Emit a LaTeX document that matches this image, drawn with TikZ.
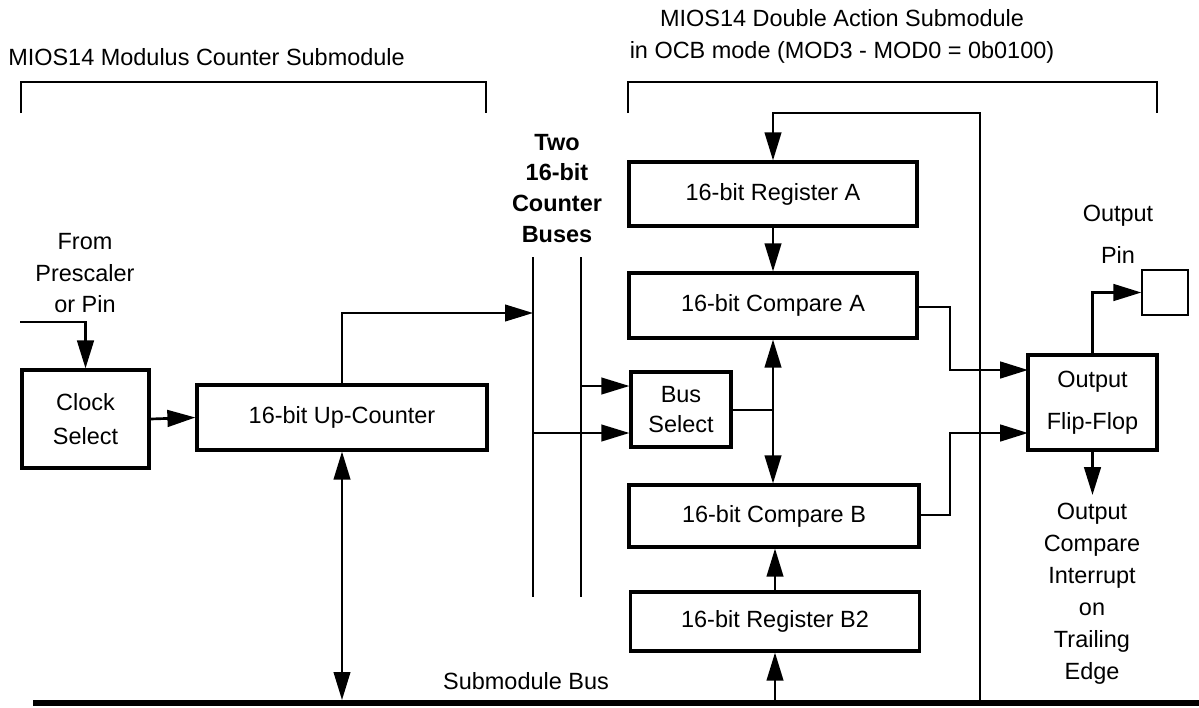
\documentclass[tikz,border=0pt]{standalone}
\usepackage{fontspec}
\setmainfont{Liberation Sans}
\usetikzlibrary{arrows.meta}
\begin{document}
\begin{tikzpicture}[x=0.75pt,y=-0.75pt,
  every node/.style={font=\fontsize{17.6}{24}\selectfont},
  box/.style={draw,line width=2.4pt,inner sep=0pt,align=center},
  lbl/.style={align=center,inner sep=0pt},
  conn/.style={line width=1.5pt},
  tconn/.style={line width=2pt},
  brk/.style={line width=1.5pt},
  >={Triangle[length=21pt,width=12.5pt]}]
\useasboundingbox (0,0) rectangle (1199,707);

% titles and brackets
\node[lbl,anchor=west] (t1) at (8,57) {MIOS14 Modulus Counter Submodule};
\node[lbl,font=\fontsize{17.6}{24}\selectfont] (t2) at (842,36) {MIOS14 Double Action Submodule\\in OCB mode (MOD3 - MOD0 = 0b0100)};
\draw[brk] (21,113) -- (21,82) -- (486,82) -- (486,113);
\draw[brk] (628,113) -- (628,82) -- (1157,82) -- (1157,113);

% boxes
\node[box,minimum width=95.25pt,minimum height=73.5pt,font=\fontsize{17.6}{26}\selectfont] (clock) at (85.5,419) {Clock\\Select};
\node[box,minimum width=217.5pt,minimum height=48.75pt] (upc) at (342,417.5) {16-bit Up-Counter};
\node[box,minimum width=216pt,minimum height=48pt] (regA) at (773,194) {16-bit Register A};
\node[box,minimum width=216pt,minimum height=48.75pt] (cmpA) at (773,305.5) {16-bit Compare A};
\node[box,minimum width=75pt,minimum height=56.25pt,font=\fontsize{17.6}{22.5}\selectfont] (bsel) at (681,409.5) {Bus\\Select};
\node[box,minimum width=217.5pt,minimum height=46.5pt] (cmpB) at (774,516) {16-bit Compare B};
\node[box,minimum width=216.75pt,minimum height=44.25pt] (regB) at (775,621.5) {16-bit Register B2};
\node[box,minimum width=96.75pt,minimum height=71.25pt,font=\fontsize{17.6}{31.5}\selectfont] (ff) at (1092.5,402.5) {Output\\Flip-Flop};
\node[draw,line width=1pt,minimum width=34.5pt,minimum height=33.75pt,inner sep=0pt] (pin) at (1165,292.5) {};

% labels
\node[lbl,font=\fontsize{17.6}{23.6}\selectfont] (from) at (85,273.5) {From\\Prescaler\\or Pin};
\node[lbl,font=\bfseries\fontsize{17.6}{23.2}\selectfont] (buses) at (557,188.5) {Two\\16-bit\\Counter\\Buses};
\node[lbl,font=\fontsize{17.6}{31.5}\selectfont] (outpin) at (1118,234) {Output\\Pin};
\node[lbl,font=\fontsize{17.6}{24}\selectfont] (occ) at (1092,594) {Output\\Compare\\Interrupt\\on\\Trailing\\Edge};
\node[lbl] (sbus) at (526,681) {Submodule Bus};

% coordinates
\coordinate (inp) at (20,322);
\coordinate (b1top) at (533,257);
\coordinate (b1bot) at (533,597);
\coordinate (b2top) at (581,257);
\coordinate (b2bot) at (581,597);
\coordinate (b1c) at (533,313);
\coordinate (b2s) at (581,386);
\coordinate (b1s) at (533,433);
\coordinate (jn) at (773,409.5);
\coordinate (jA) at (950,307);
\coordinate (jB) at (950,515);
\coordinate (ffa) at (1028,370);
\coordinate (ffb) at (1028,433);
\coordinate (fbB) at (980,703);
\coordinate (fbT) at (980,113);
\coordinate (busL) at (33,703);
\coordinate (busR) at (1199,703);
\coordinate (busTop) at (0,700);
\coordinate (ocTop) at (1092.5,495);

% main bus and counter buses
\draw[line width=5pt] (busL) -- (busR);
\draw[conn] (b1top) -- (b1bot);
\draw[conn] (b2top) -- (b2bot);

% connectors
\draw[tconn,->] (inp) -| (clock.north);
\draw[tconn,->] (clock.east) -- (upc.west);
\draw[conn,->] (upc.north) |- (b1c);
\draw[conn,<->] (upc.south) -- (upc.south |- busTop);
\draw[conn,->] (b2s) -- (bsel.west |- b2s);
\draw[conn,->] (b1s) -- (bsel.west |- b1s);
\draw[conn] (bsel.east) -- (jn);
\draw[conn,<->] (cmpA.south) -- (cmpA.south |- cmpB.north);
\draw[conn,->] (regA.south) -- (cmpA.north);
\draw[conn,->] (regB.north) -- (regB.north |- cmpB.south);
\draw[conn,->] (regB.south |- busTop) -- (regB.south);
\draw[conn,->] (fbB) -- (fbT) -| (regA.north);
\draw[tconn,->] (cmpA.east |- jA) -- (jA) |- (ffa);
\draw[tconn,->] (cmpB.east |- jB) -- (jB) |- (ffb);
\draw[tconn,->] (ff.north) |- (pin.west);
\draw[tconn,->] (ff.south) -- (ocTop);
\end{tikzpicture}
\end{document}
